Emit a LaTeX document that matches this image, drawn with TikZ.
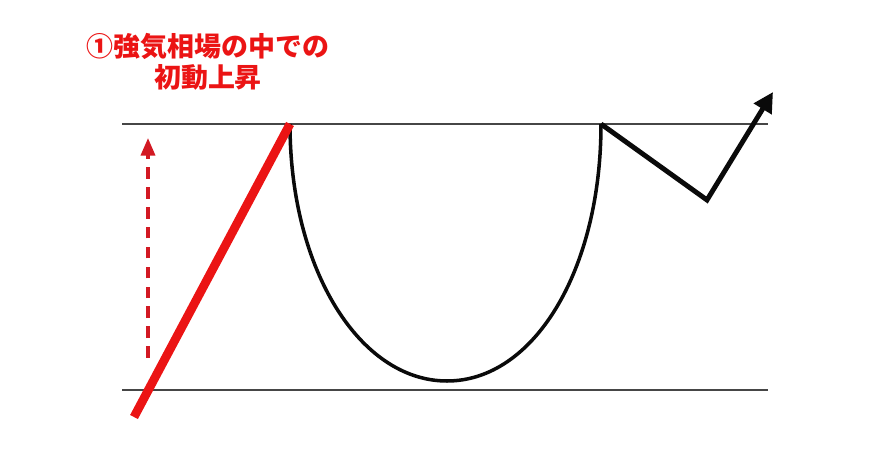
\documentclass[tikz,border=0pt]{standalone}
\usepackage{fontspec}
\newfontfamily\jpfont{Noto Sans CJK JP}
\usetikzlibrary{arrows.meta}
\definecolor{cpred}{RGB}{235,20,20}
\definecolor{cpdash}{RGB}{210,25,35}
\definecolor{cpline}{RGB}{70,70,70}
\definecolor{cpblack}{RGB}{10,10,10}

\begin{document}
\begin{tikzpicture}[x=0.03cm, y=-0.03cm,
  band/.style={cpline, line width=1.9pt},
  surge/.style={cpred, line width=7.5pt},
  cup/.style={cpblack, line width=3pt},
  handle/.style={cpblack, line width=4.2pt, line join=miter,
    -{Triangle[length=17pt,width=17pt]}},
  lift/.style={cpdash, line width=2.8pt, dash pattern=on 10pt off 7pt,
    -{Triangle[length=15pt,width=12pt]}},
  note/.style={cpred, font=\jpfont\bfseries\fontsize{23}{26}\selectfont, align=center}]
\useasboundingbox (0,0) rectangle (894,458);
% Points
\coordinate (lo) at (134,417);
\coordinate (rim) at (290,124);
\coordinate (base) at (447,381);
\coordinate (lip) at (601,124);
\coordinate (dip) at (707,200);
\coordinate (out) at (773,92);
\coordinate (ls) at (148,358);
\coordinate (lt) at (148,138);
% Upper and lower band
\foreach \yy/\nm in {124/top, 390/bot} {
  \coordinate (\nm L) at (122,\yy);
  \coordinate (\nm R) at (768,\yy);
  \draw[band] (\nm L) -- (\nm R);
}
% Cup
\draw[cup] (rim) .. controls (290,270) and (360,381) .. (base)
  .. controls (534,381) and (601,270) .. (lip);
% Handle and breakout
\draw[handle] (lip) -- (dip) -- (out);
% Initial rise
\draw[lift] (ls) -- (lt);
\draw[surge] (lo) -- (rim);
% Label
\node[note] (lbl) at (208,62) {①強気相場の中での\\初動上昇};
\end{tikzpicture}
\end{document}
